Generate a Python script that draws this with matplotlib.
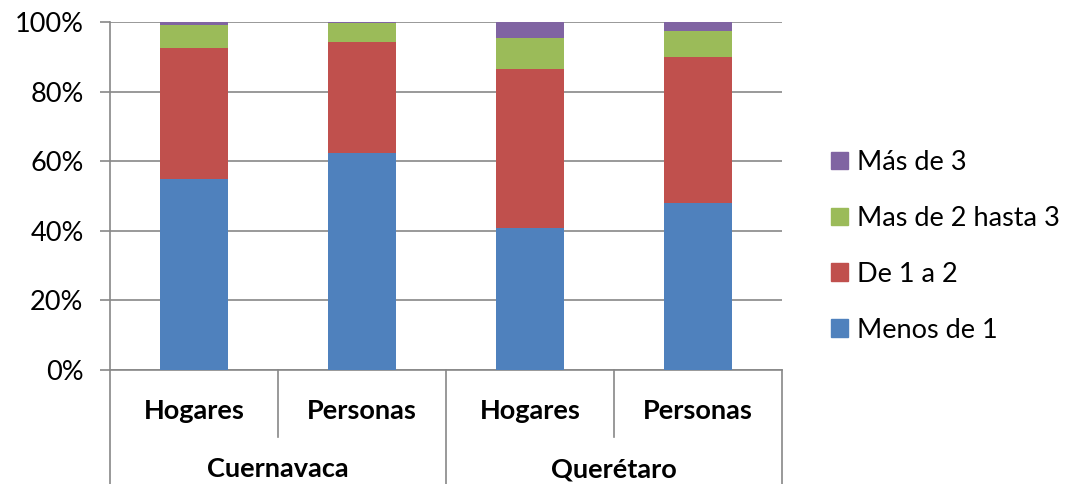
import numpy as np
import matplotlib.pyplot as plt
from matplotlib.patches import Patch
from matplotlib.transforms import blended_transform_factory

plt.rcParams['font.family'] = ['Lato', 'DejaVu Sans']

# datos (porcentajes)
ciudades = ['Cuernavaca', 'Querétaro']
grupos = ['Hogares', 'Personas', 'Hogares', 'Personas']
series = ['Menos de 1', 'De 1 a 2', 'Mas de 2 hasta 3', 'Más de 3']
menos_1 = [54.9, 62.3, 40.8, 48.1]
de_1_a_2 = [37.6, 31.9, 45.8, 41.8]
de_2_a_3 = [6.7, 5.6, 8.8, 7.6]
mas_de_3 = [0.8, 0.2, 4.6, 2.5]
colores = ['#4F81BD', '#C0504D', '#9BBB59', '#8064A2']

fs = 19.5
fig = plt.figure(figsize=(10.7, 4.84), dpi=100)
ax = fig.add_axes([110 / 1070, 114 / 484, 672 / 1070, 348 / 484])

x = np.arange(len(grupos))
base = np.zeros(len(grupos))
for vals, col in zip([menos_1, de_1_a_2, de_2_a_3, mas_de_3], colores):
    ax.bar(x, vals, bottom=base, width=0.4, color=col, zorder=3)
    base += np.array(vals)

ax.set_xlim(-0.5, 3.5)
ax.set_ylim(0, 100)
ax.set_yticks(np.arange(0, 101, 20))
ax.set_yticklabels([f'{v}%' for v in range(0, 101, 20)], fontsize=fs)
ax.yaxis.grid(True, color='#888888', linewidth=1.2, zorder=0)
ax.tick_params(axis='y', length=7, color='#888888', width=1.2, pad=12)
ax.set_xticks([])
for s in ['top', 'right', 'bottom']:
    ax.spines[s].set_visible(False)
ax.spines['left'].set_color('#888888')
ax.spines['left'].set_linewidth(1.2)

# eje de categorias en dos niveles
tr = blended_transform_factory(ax.transData, ax.transAxes)
for xi, g in zip(x, grupos):
    ax.text(xi, -0.118, g, transform=tr, ha='center', va='center',
            fontsize=fs, fontweight='bold')
for i, c in enumerate(ciudades):
    ax.text(0.5 + 2 * i, -0.285, c, transform=tr, ha='center', va='center',
            fontsize=fs, fontweight='bold')
for xb in [0.5, 2.5]:
    ax.plot([xb, xb], [0, -0.193], transform=tr, color='#888888', lw=1.2, clip_on=False)
for xb in [-0.5, 1.5, 3.5]:
    ax.plot([xb, xb], [0, -0.33], transform=tr, color='#888888', lw=1.2, clip_on=False)
ax.plot([-0.5, 3.5], [0, 0], transform=tr, color='#888888', lw=1.2, clip_on=False)

handles = [Patch(color=c, label=s) for s, c in zip(series, colores)][::-1]
fig.legend(handles=handles, loc='center left', bbox_to_anchor=(0.777, 0.491),
           frameon=False, fontsize=fs, handlelength=0.63, handleheight=0.63,
           labelspacing=1.14, handletextpad=0.3, borderpad=0, borderaxespad=0)

fig.savefig('out.png', dpi=100)
